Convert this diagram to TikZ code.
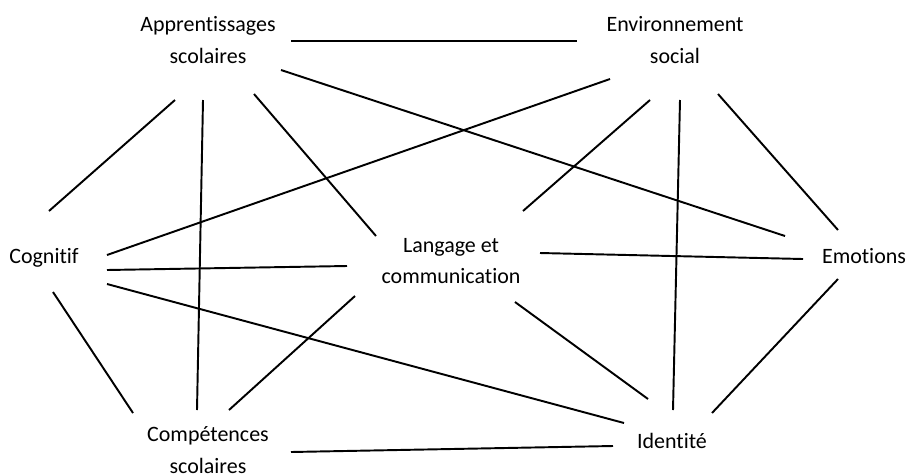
\documentclass[tikz,border=0pt]{standalone}
\usepackage{fontspec}
\setmainfont[Ligatures=NoCommon]{Carlito}
\usetikzlibrary{calc}

\begin{document}
\begin{tikzpicture}[x=0.02cm, y=-0.02cm,
    textnode/.style={align=center, font=\fontsize{12.5}{18}\selectfont, inner sep=0pt},
    link/.style={line width=1.1pt}]
    \useasboundingbox (0,0) rectangle (909,474);
    % nodes
    \node[textnode] (appr) at (208,40)  {Apprentissages\\scolaires};
    \node[textnode] (env)  at (675,40)  {Environnement\\social};
    \node[textnode] (cog)  at (44,258)  {Cognitif};
    \node[textnode] (lang) at (451,261) {Langage et\\communication};
    \node[textnode] (emo)  at (864,256) {Emotions};
    \node[textnode] (comp) at (208,450) {Compétences\\scolaires};
    \node[textnode] (iden) at (672,441) {Identité};
    % lines
    \draw[link] ($(appr)+(83,1)$)   -- ($(env)+(-98,1)$);
    \draw[link] ($(appr)+(73,30)$)  -- ($(emo)+(-79,-20)$);
    \draw[link] ($(appr)+(-33,60)$) -- ($(cog)+(5,-47)$);
    \draw[link] ($(appr)+(-5,60)$)  -- ($(comp)+(-11,-40)$);
    \draw[link] ($(appr)+(46,54)$)  -- ($(lang)+(-75,-25)$);
    \draw[link] ($(env)+(-65,39)$)  -- ($(cog)+(63,-3)$);
    \draw[link] ($(env)+(-25,60)$)  -- ($(lang)+(72,-50)$);
    \draw[link] ($(env)+(5,60)$)    -- ($(iden)+(1,-31)$);
    \draw[link] ($(env)+(43,54)$)   -- ($(emo)+(-26,-26)$);
    \draw[link] ($(cog)+(63,12)$)   -- ($(lang)+(-104,5)$);
    \draw[link] ($(cog)+(63,26)$)   -- ($(iden)+(-48,-18)$);
    \draw[link] ($(cog)+(9,34)$)    -- ($(comp)+(-75,-37)$);
    \draw[link] ($(lang)+(89,-8)$)  -- ($(emo)+(-61,3)$);
    \draw[link] ($(lang)+(-96,35)$) -- ($(comp)+(21,-40)$);
    \draw[link] ($(lang)+(64,41)$)  -- ($(iden)+(-24,-42)$);
    \draw[link] ($(emo)+(-26,23)$)  -- ($(iden)+(40,-28)$);
    \draw[link] ($(comp)+(83,2)$)   -- ($(iden)+(-59,5)$);
\end{tikzpicture}
\end{document}
